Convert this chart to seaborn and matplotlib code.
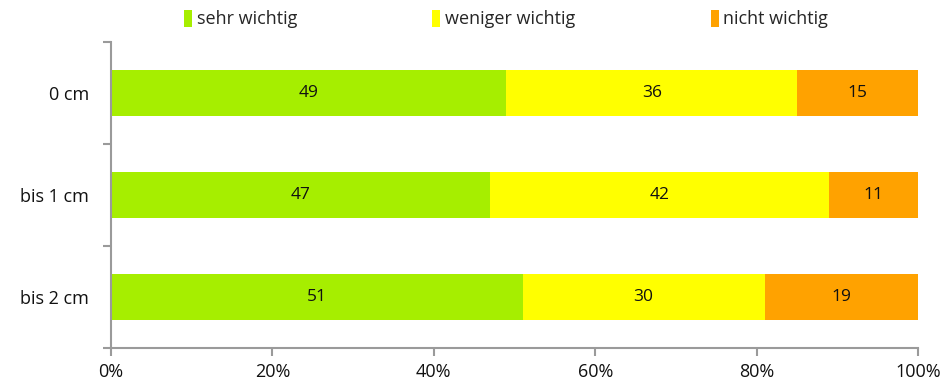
import matplotlib
matplotlib.use("Agg")
import matplotlib.pyplot as plt
from matplotlib.patches import Patch
from matplotlib.ticker import FixedLocator
import seaborn as sns
import pandas as pd
import numpy as np

categories = ["0 cm", "bis 1 cm", "bis 2 cm"]
series_names = ["sehr wichtig", "weniger wichtig", "nicht wichtig"]
sehr_wichtig = [49, 47, 51]
weniger_wichtig = [36, 42, 30]
nicht_wichtig = [15, 11, 19]
colors = ["#A6EE00", "#FFFF00", "#FFA200"]
x_ticks = [0, 20, 40, 60, 80, 100]
x_tick_labels = ["0%", "20%", "40%", "60%", "80%", "100%"]

sns.set_theme(style="white")
plt.rcParams["font.family"] = ["Open Sans", "DejaVu Sans"]

series = [sehr_wichtig, weniger_wichtig, nicht_wichtig]
cum = np.cumsum(np.array(series), axis=0)

fig = plt.figure(figsize=(9.44, 3.88), dpi=100)
ax = fig.add_axes([111 / 944, 1 - 348 / 388, (918 - 111) / 944, (348 - 42) / 388])

# draw stacked bars back-to-front: each layer is the cumulative total
for i in reversed(range(len(series))):
    df = pd.DataFrame({"cat": categories, "val": cum[i]})
    sns.barplot(data=df, x="val", y="cat", orient="h", color=colors[i],
                width=0.46, saturation=1, ax=ax, linewidth=0)

# segment value labels
for j, cat in enumerate(categories):
    for i in range(len(series)):
        start = cum[i][j] - series[i][j]
        ax.text(start + series[i][j] / 2, j, str(series[i][j]),
                ha="center", va="center", fontsize=12.5, color="#111111")

ax.set_xlim(0, 100)
ax.set_ylim(2.5, -0.5)
ax.set_xlabel("")
ax.set_ylabel("")

grey = "#9A9A9A"
for side in ["top", "right"]:
    ax.spines[side].set_visible(False)
for side in ["left", "bottom"]:
    ax.spines[side].set_color(grey)
    ax.spines[side].set_linewidth(1.5)

ax.set_xticks(x_ticks)
ax.set_xticklabels(x_tick_labels, fontsize=13, color="#111111")
ax.tick_params(axis="x", which="major", direction="out", length=6, width=1.5,
               color=grey, bottom=True, pad=5)

ax.set_yticks(range(len(categories)))
ax.set_yticklabels(categories, fontsize=13, color="#111111")
ax.tick_params(axis="y", which="major", length=0, pad=16)
ax.yaxis.set_minor_locator(FixedLocator([-0.5, 0.5, 1.5, 2.5]))
ax.tick_params(axis="y", which="minor", direction="out", length=6, width=1.5,
               color=grey, left=True)

handles = [Patch(facecolor=c, edgecolor="none") for c in colors]
fig.legend(handles, series_names, loc="center", bbox_to_anchor=(506 / 944, 1 - 19 / 388),
           ncol=3, frameon=False, fontsize=13, handlelength=0.45, handleheight=1.1,
           handletextpad=0.25, columnspacing=7.5, borderpad=0)

fig.savefig("out.png", dpi=100)
